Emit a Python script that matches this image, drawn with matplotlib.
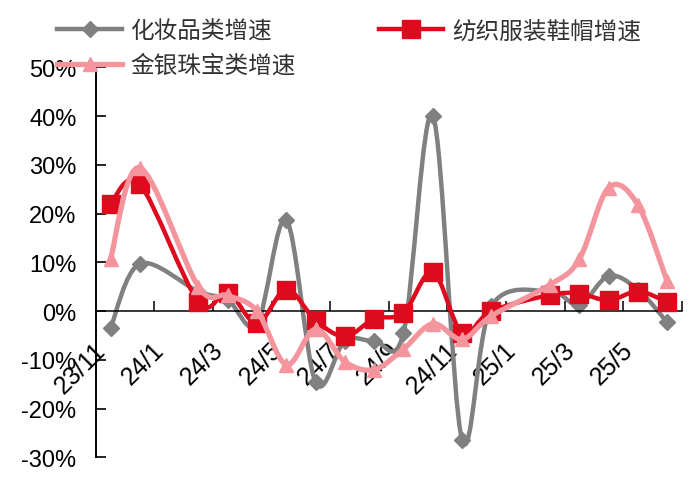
import numpy as np
import matplotlib
matplotlib.use("Agg")
import matplotlib.pyplot as plt
from matplotlib.path import Path
from matplotlib.patches import PathPatch
from matplotlib.lines import Line2D
from matplotlib.ticker import FuncFormatter

plt.rcParams['font.family'] = ['Liberation Sans', 'Noto Sans CJK SC', 'DejaVu Sans']

nan = np.nan

# monthly categories (Jan values missing: Jan-Feb reported together)
months = ['23/11', '23/12', '24/1', '24/2', '24/3', '24/4', '24/5', '24/6', '24/7',
          '24/8', '24/9', '24/10', '24/11', '24/12', '25/1', '25/2', '25/3', '25/4',
          '25/5', '25/6']

cosmetics = [-3.5, 9.7, nan, 4.0, 2.3, -2.7, 18.7, -14.6, -6.1, -6.1, -4.5, 40.1,
             -26.4, 1.0, nan, 4.0, 1.3, 7.2, 4.4, -2.3]
textile = [22.0, 26.0, nan, 1.9, 3.8, -2.5, 4.4, -1.9, -5.2, -1.6, -0.4, 8.0,
           -4.5, 0.0, nan, 3.3, 3.6, 2.2, 4.0, 1.9]
jewelry = [10.7, 29.4, nan, 5.0, 3.2, 0.0, -11.0, -3.7, -10.4, -12.0, -7.8, -2.6,
           -5.8, -1.0, nan, 5.4, 10.6, 25.3, 21.8, 6.1]

names = ['化妆品类增速', '纺织服装鞋帽增速', '金银珠宝类增速']

GREY = '#808080'
RED = '#DE0A1E'
PINK = '#F4959E'


def smooth_path(xs, ys):
    """Excel-like smoothed line as cubic bezier through the valid points."""
    pts = np.array([(a, b) for a, b in zip(xs, ys) if not np.isnan(b)])
    n = len(pts)
    verts = [pts[0]]
    codes = [Path.MOVETO]
    for i in range(n - 1):
        p0 = pts[i - 1] if i > 0 else pts[i]
        p3 = pts[i + 2] if i + 2 < n else pts[i + 1]
        c1 = pts[i] + (pts[i + 1] - p0) / 6.0
        c2 = pts[i + 1] - (p3 - pts[i]) / 6.0
        verts += [c1, c2, pts[i + 1]]
        codes += [Path.CURVE4] * 3
    return Path(verts, codes)


fig = plt.figure(figsize=(7, 4.89), dpi=100)
ax = fig.add_axes([0.137, 0.0628, 0.837, 0.7975])

x = np.arange(len(months))
series = [
    (cosmetics, GREY, 3.2, 'D', 8, 2),
    (textile, RED, 3.2, 's', 13, 3),
    (jewelry, PINK, 3.8, '^', 10, 4),
]
for vals, col, lw, mk, ms, z in series:
    ax.add_patch(PathPatch(smooth_path(x, np.array(vals, dtype=float)),
                           facecolor='none', edgecolor=col, lw=lw,
                           capstyle='round', joinstyle='round', zorder=z))
    ax.plot(x, vals, linestyle='none', marker=mk, ms=ms, color=col,
            markeredgecolor=col, zorder=z)

ax.set_xlim(-0.5, len(months) - 0.5)
ax.set_ylim(-30, 50)

for s in ['top', 'right']:
    ax.spines[s].set_visible(False)
ax.spines['bottom'].set_position(('data', 0))
ax.spines['bottom'].set_linewidth(1.1)
ax.spines['left'].set_linewidth(1.4)

# x: tick marks between every second category, labels on every second month
ax.set_xticks(np.arange(1.5, len(months), 2))
ax.set_xticklabels([])
ax.set_xticks(x[::2], [months[i] for i in x[::2]], minor=True)
ax.tick_params(axis='x', which='major', direction='in', length=7, width=1.1)
ax.tick_params(axis='x', which='minor', length=0, pad=19, labelsize=18)
for lab in ax.get_xticklabels(minor=True):
    lab.set_rotation(45)
    lab.set_ha('right')

ax.set_yticks(np.arange(-30, 51, 10))
ax.yaxis.set_major_formatter(FuncFormatter(lambda v, p: f'{v:.0f}%'))
ax.tick_params(axis='y', direction='in', length=7, width=1.2, pad=14, labelsize=17)

handles = [
    Line2D([], [], color=GREY, lw=3.2, marker='D', ms=8),
    Line2D([], [], color=PINK, lw=3.8, marker='^', ms=10),
    Line2D([], [], color=RED, lw=3.2, marker='s', ms=13),
]
leg = fig.legend(handles, [names[0], names[2], names[1]], ncol=2,
                 loc='upper left', bbox_to_anchor=(0.065, 0.981),
                 bbox_transform=fig.transFigure, frameon=False, fontsize=17,
                 borderpad=0, handlelength=2.75, handletextpad=0.35,
                 columnspacing=3.5, labelspacing=0.5)
for t in leg.get_texts():
    t.set_color('#333333')

fig.savefig('out.png', dpi=100)
